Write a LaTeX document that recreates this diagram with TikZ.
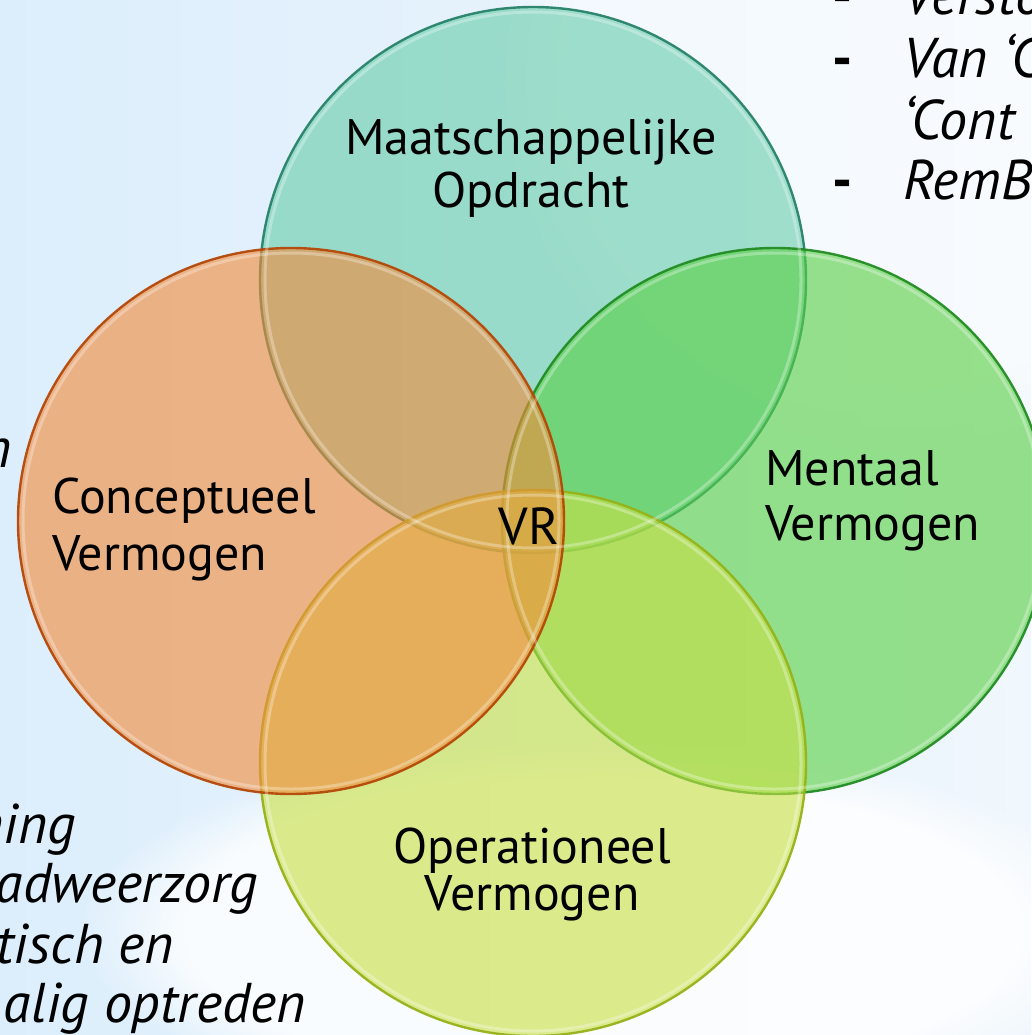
\documentclass[tikz,border=0pt]{standalone}
\usepackage{fontspec}
\usetikzlibrary{fadings}
\setmainfont{PT Sans}
\begin{document}
\begin{tikzpicture}[x=1pt,y=-1pt,
  venn/.style={circle,minimum size=546pt,inner sep=0pt,line width=2.4pt,fill opacity=0.62,draw opacity=0.95},
  gloss/.style={white,opacity=0.3,line width=3pt},
  lbl/.style={inner sep=0pt,align=#1,text=black},
  cut/.style={inner sep=0pt,text=black,font=\fontsize{56}{62}\selectfont\itshape},
  dashmark/.style={inner sep=0pt,text=black,font=\fontsize{56}{62}\selectfont\bfseries}
]
\definecolor{bgL}{RGB}{220,238,252}
\definecolor{bgR}{RGB}{240,247,253}
\definecolor{tealF}{RGB}{105,205,172}
\definecolor{tealD}{RGB}{40,130,105}
\definecolor{orgF}{RGB}{242,140,60}
\definecolor{orgD}{RGB}{180,72,8}
\definecolor{grnF}{RGB}{90,208,70}
\definecolor{grnD}{RGB}{35,140,35}
\definecolor{ylwF}{RGB}{200,224,70}
\definecolor{ylwD}{RGB}{150,178,25}
\useasboundingbox (0,0) rectangle (1031,1035);
% background
\fill[left color=bgL,right color=bgR] (0,0) rectangle (1031,1035);
\fill[white,opacity=0.5,path fading=circle with fuzzy edge 20 percent] (900,80) ellipse (420pt and 380pt);
\fill[white,opacity=0.8,path fading=circle with fuzzy edge 20 percent] (600,930) ellipse (520pt and 190pt);
% circles
\node (mo) [venn,fill=tealF,draw=tealD] at (533,280) {};
\node (mv) [venn,fill=grnF,draw=grnD] at (775,521) {};
\node (ov) [venn,fill=ylwF,draw=ylwD] at (533,763) {};
\node (cv) [venn,fill=orgF,draw=orgD] at (291,521) {};
\draw[gloss] (mo.center) circle (268);
\draw[gloss] (mv.center) circle (268);
\draw[gloss] (ov.center) circle (268);
\draw[gloss] (cv.center) circle (268);
% labels (anchor base = baseline of last line)
\node (tmo) [lbl=center,anchor=base,font=\fontsize{50}{52}\selectfont] at (531,207) {Maatschappelijke\\Opdracht};
\node (tcv) [lbl=left,anchor=base west,font=\fontsize{50}{57}\selectfont] at (52,570) {Conceptueel\\Vermogen};
\node (tmv) [lbl=left,anchor=base west,font=\fontsize{50}{55}\selectfont] at (765,540) {Mentaal\\Vermogen};
\node (tov) [lbl=center,anchor=base,font=\fontsize{50}{47}\selectfont] at (532,910) {Operationeel\\Vermogen};
\node (tvr) [lbl=center,anchor=base,font=\fontsize{52}{52}\selectfont] at (529,544) {VR};
% cropped side texts
\node (d1) [dashmark,anchor=base west] at (832,15) {-};
\node (d2) [dashmark,anchor=base west] at (832,78) {-};
\node (d3) [dashmark,anchor=base west] at (832,200) {-};
\node (r1) [cut,anchor=base west] at (903,15) {Versto};
\node (r2) [cut,anchor=base west] at (903,78) {Van ‘C};
\node (r3) [cut,anchor=base west] at (903,140) {‘Cont};
\node (r4) [cut,anchor=base west] at (903,200) {RemB};
\node (l0) [cut,anchor=base east] at (12,467) {n};
\node (l1) [cut,anchor=base east] at (76,843) {ning};
\node (l2) [cut,anchor=base east] at (258,902) {adweerzorg};
\node (l3) [cut,anchor=base east] at (174,963) {tisch en};
\node (l4) [cut,anchor=base east] at (306,1022) {alig optreden};
\end{tikzpicture}
\end{document}
